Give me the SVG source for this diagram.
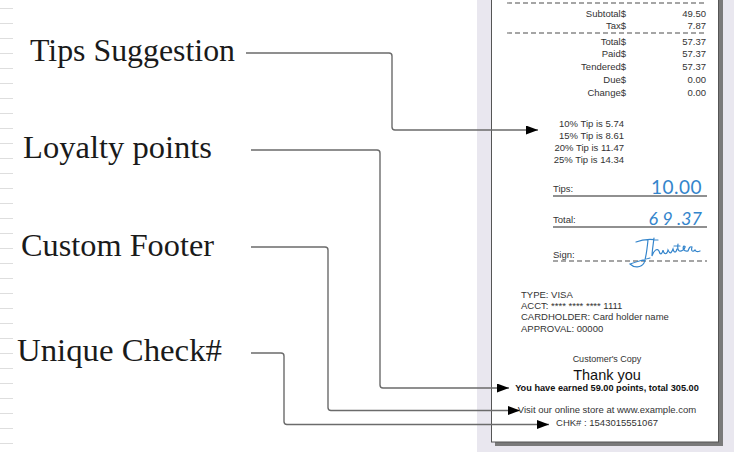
<svg xmlns="http://www.w3.org/2000/svg" width="734" height="452" viewBox="0 0 734 452">
<style>
.lbl{font-family:"Liberation Serif","Times New Roman",serif;font-size:31px;fill:#1a1a1a}
.r{font-family:"Liberation Sans",Arial,sans-serif;font-size:9.5px;fill:#333}
.re{text-anchor:end}
.mid{text-anchor:middle}
.hand{font-family:Lato,"Open Sans",sans-serif;font-weight:400;font-size:19px;fill:#3485cc}
.conn{fill:none;stroke:#6b6b6b;stroke-width:1.4}
.rule{stroke:#dedede;stroke-width:1}
.dash{stroke:#888;stroke-width:1.3;stroke-dasharray:5 3}
.uline{stroke:#6b6b6b;stroke-width:1.6}
</style>
<defs>
<marker id="ah" markerUnits="userSpaceOnUse" markerWidth="12" markerHeight="9" refX="12" refY="4.5" orient="auto">
<polygon points="0,0 12,4.5 0,9" fill="#000"/>
</marker>
</defs>
<rect width="734" height="452" fill="#fff"/>
<g id="rules">
<line class="rule" x1="0" y1="8.5" x2="13" y2="8.5"/><line class="rule" x1="0" y1="23.5" x2="13" y2="23.5"/><line class="rule" x1="0" y1="38.5" x2="13" y2="38.5"/><line class="rule" x1="0" y1="53.5" x2="13" y2="53.5"/><line class="rule" x1="0" y1="68.5" x2="13" y2="68.5"/><line class="rule" x1="0" y1="83.5" x2="13" y2="83.5"/><line class="rule" x1="0" y1="98.5" x2="13" y2="98.5"/><line class="rule" x1="0" y1="113.5" x2="13" y2="113.5"/><line class="rule" x1="0" y1="128.5" x2="13" y2="128.5"/><line class="rule" x1="0" y1="143.5" x2="13" y2="143.5"/><line class="rule" x1="0" y1="158.5" x2="13" y2="158.5"/><line class="rule" x1="0" y1="173.5" x2="13" y2="173.5"/><line class="rule" x1="0" y1="188.5" x2="13" y2="188.5"/><line class="rule" x1="0" y1="203.5" x2="13" y2="203.5"/><line class="rule" x1="0" y1="218.5" x2="13" y2="218.5"/><line class="rule" x1="0" y1="233.5" x2="13" y2="233.5"/><line class="rule" x1="0" y1="248.5" x2="13" y2="248.5"/><line class="rule" x1="0" y1="263.5" x2="13" y2="263.5"/><line class="rule" x1="0" y1="278.5" x2="13" y2="278.5"/><line class="rule" x1="0" y1="293.5" x2="13" y2="293.5"/><line class="rule" x1="0" y1="308.5" x2="13" y2="308.5"/><line class="rule" x1="0" y1="323.5" x2="13" y2="323.5"/><line class="rule" x1="0" y1="338.5" x2="13" y2="338.5"/><line class="rule" x1="0" y1="353.5" x2="13" y2="353.5"/><line class="rule" x1="0" y1="368.5" x2="13" y2="368.5"/><line class="rule" x1="0" y1="383.5" x2="13" y2="383.5"/><line class="rule" x1="0" y1="398.5" x2="13" y2="398.5"/><line class="rule" x1="0" y1="413.5" x2="13" y2="413.5"/><line class="rule" x1="0" y1="428.5" x2="13" y2="428.5"/><line class="rule" x1="0" y1="443.5" x2="13" y2="443.5"/>
</g>
<g id="receipt">
<rect x="477" y="0" width="257" height="452" fill="#e9e7ef"/>
<rect x="495" y="-6" width="228" height="452" fill="#7a7a7a"/>
<rect x="491.5" y="-10" width="227" height="452" fill="#fff" stroke="#555" stroke-width="1"/>
<line class="dash" x1="507" y1="3" x2="706" y2="3"/>
<text class="r re" x="626" y="17">Subtotal$</text><text class="r re" x="706" y="17">49.50</text>
<text class="r re" x="626" y="29">Tax$</text><text class="r re" x="706" y="29">7.87</text>
<line class="dash" x1="507" y1="33" x2="706" y2="33"/>
<text class="r re" x="626" y="45">Total$</text><text class="r re" x="706" y="45">57.37</text>
<text class="r re" x="626" y="57">Paid$</text><text class="r re" x="706" y="57">57.37</text>
<text class="r re" x="626" y="70">Tendered$</text><text class="r re" x="706" y="70">57.37</text>
<text class="r re" x="626" y="83">Due$</text><text class="r re" x="706" y="83">0.00</text>
<text class="r re" x="626" y="96">Change$</text><text class="r re" x="706" y="96">0.00</text>
<text class="r re" x="624" y="127">10% Tip is 5.74</text>
<text class="r re" x="624" y="139">15% Tip is 8.61</text>
<text class="r re" x="624" y="151">20% Tip is 11.47</text>
<text class="r re" x="624" y="163">25% Tip is 14.34</text>
<text class="r" x="553" y="192">Tips:</text>
<line class="uline" x1="553" y1="196" x2="707" y2="196"/>
<text class="hand re" x="702" y="194" style="letter-spacing:0.5px">10.00</text>
<text class="r" x="553" y="223">Total:</text>
<line class="uline" x1="553" y1="227" x2="707" y2="227"/>
<text class="hand re" x="702" y="225" style="font-style:italic;font-size:18px">6 9 .37</text>
<text class="r" x="553" y="258">Sign:</text>
<line class="dash" x1="553" y1="261" x2="707" y2="261"/>
<path d="M636 242 C643 239 651 239 658 240 M648 240 C647 250 646 258 644 263 C641 268 634 268 630 264 C636 262 642 260 650 258 M654 238 C653 246 652 252 652 256 C654 250 657 248 659 251 C660 255 662 255 663 250 C664 255 667 255 668 250 C670 254 671 254 673 249 C674 253 676 253 677 249 M674 246 L680 246 M678 244 C677 250 679 253 683 250 C685 248 686 246 684 246 C682 248 684 252 688 251 M688 251 C689 248 690 246 692 247 C691 250 692 253 695 250 C696 252 698 252 700 251" fill="none" stroke="#3485cc" stroke-width="1.2" stroke-linecap="round"/>
<text class="r" x="521" y="298">TYPE: VISA</text>
<text class="r" x="521" y="309">ACCT: **** **** **** 1111</text>
<text class="r" x="521" y="320">CARDHOLDER: Card holder name</text>
<text class="r" x="521" y="332">APPROVAL: 00000</text>
<text class="r mid" x="607" y="362" style="font-family:'Liberation Sans',Arial,sans-serif;font-size:9px">Customer's Copy</text>
<text class="r mid" x="607" y="380" style="font-family:'Liberation Sans',Arial,sans-serif;font-size:14.5px;fill:#111">Thank you</text>
<text class="r mid" x="607" y="391" style="font-family:'Liberation Sans',Arial,sans-serif;font-weight:bold;font-size:9.2px;fill:#111">You have earned 59.00 points, total 305.00</text>
<text class="r mid" x="607" y="413">Visit our online store at www.example.com</text>
<text class="r mid" x="607" y="426">CHK# : 1543015551067</text>
</g>
<g id="n-tips"><text class="lbl" x="30" y="61" textLength="205" lengthAdjust="spacingAndGlyphs">Tips Suggestion</text></g>
<g id="n-loyalty"><text class="lbl" x="23" y="158" textLength="189" lengthAdjust="spacingAndGlyphs">Loyalty points</text></g>
<g id="n-footer"><text class="lbl" x="21" y="256" textLength="193" lengthAdjust="spacingAndGlyphs">Custom Footer</text></g>
<g id="n-check"><text class="lbl" x="17" y="361" textLength="205" lengthAdjust="spacingAndGlyphs">Unique Check#</text></g>
<g id="connectors">
<path class="conn" d="M246 53 H389 Q392 53 392 56 V127 Q392 130 395 130 H538" marker-end="url(#ah)"/>
<path class="conn" d="M251 150 H377 Q380 150 380 153 V385 Q380 388 383 388 H509" marker-end="url(#ah)"/>
<path class="conn" d="M251 247 H325 Q328 247 328 250 V407.5 Q328 410.5 331 410.5 H520" marker-end="url(#ah)"/>
<path class="conn" d="M251 353 H281 Q284 353 284 356 V421.5 Q284 424.5 287 424.5 H549" marker-end="url(#ah)"/>
</g>
</svg>
